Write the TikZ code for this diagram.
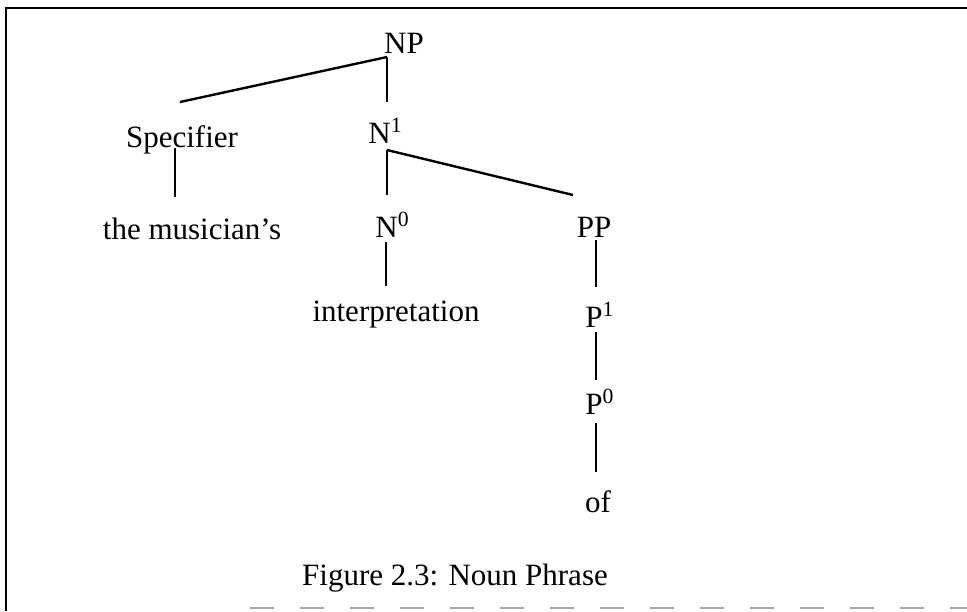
\documentclass[tikz,border=0pt]{standalone}
\usepackage{fontspec}
\setmainfont{Liberation Serif}
\usepackage{tikz}
\usetikzlibrary{positioning}
\newcommand{\treefont}{\fontsize{15.5}{18}\selectfont}

\begin{document}
\begin{tikzpicture}[x=0.5pt, y=-0.5pt,
  lbl/.style={anchor=base, inner sep=0pt, font=\treefont},
  lblw/.style={lbl, anchor=base west},
  edge/.style={line width=1.2pt},
  frame/.style={line width=1.4pt}]
  \useasboundingbox (0,0) rectangle (967,611);
  % frame of the scanned page
  \coordinate (fr-tl) at (6,8);
  \coordinate (fr-tr) at (967,8);
  \coordinate (fr-bl) at (6,611);
  \draw[frame] (fr-bl) -- (fr-tl) -- (fr-tr);
  \coordinate (fr-d1) at (250,608);
  \coordinate (fr-d2) at (967,608);
  \draw[gray!70, line width=1pt, dash pattern=on 12pt off 13pt] (fr-d1) -- (fr-d2);

  % labels
  \node[lbl] (np) at (404,53) {NP};
  \node[lbl] (spec) at (182,147) {Specifier};
  \node[lblw] (n1) at (368,143) {N\textsuperscript{1}};
  \node[lbl] (mus) at (192,239) {the musician's};
  \node[lblw] (n0) at (375,237) {N\textsuperscript{0}};
  \node[lbl] (pp) at (594,237) {PP};
  \node[lbl] (interp) at (396,321) {interpretation};
  \node[lblw] (p1) at (585,327) {P\textsuperscript{1}};
  \node[lblw] (p0) at (585,414) {P\textsuperscript{0}};
  \node[lbl] (of) at (598,512) {of};
  \node[lbl] (cap) at (455,585) {Figure 2.3: Noun Phrase};

  % branch points
  \coordinate (np-j) at (387,57);
  \coordinate (spec-t) at (180,102);
  \coordinate (n1-t) at (387,102);
  \coordinate (n1-j) at (387,150);
  \coordinate (n0-t) at (387,195);
  \coordinate (pp-t) at (573,195);
  \coordinate (spec-b) at (175,148);
  \coordinate (mus-t) at (175,197);
  \coordinate (n0-b) at (386,242);
  \coordinate (interp-t) at (386,286);
  \coordinate (pp-b) at (596,240);
  \coordinate (p1-t) at (596,287);
  \coordinate (p1-b) at (596,332);
  \coordinate (p0-t) at (596,380);
  \coordinate (p0-b) at (596,423);
  \coordinate (of-t) at (596,472);

  \foreach \s/\t in {np-j/spec-t,np-j/n1-t,n1-j/n0-t,n1-j/pp-t,spec-b/mus-t,n0-b/interp-t,pp-b/p1-t,p1-b/p0-t,p0-b/of-t}
    \draw[edge] (\s) -- (\t);
\end{tikzpicture}
\end{document}
